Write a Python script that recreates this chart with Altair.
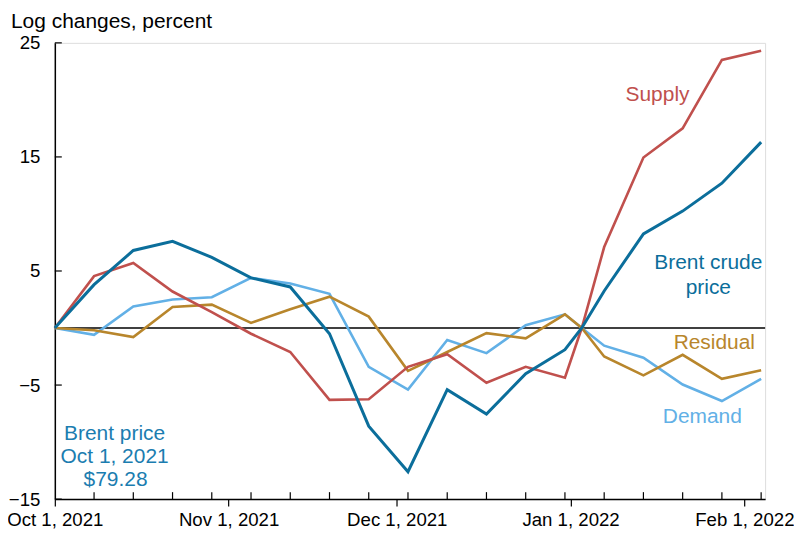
import altair as alt
import pandas as pd

# ---- data ----
dates = ["2021-10-01", "2021-10-08", "2021-10-15", "2021-10-22", "2021-10-29",
         "2021-11-05", "2021-11-12", "2021-11-19", "2021-11-26", "2021-12-03",
         "2021-12-10", "2021-12-17", "2021-12-24", "2021-12-31", "2022-01-03",
         "2022-01-07", "2022-01-14", "2022-01-21", "2022-01-28", "2022-02-04"]
brent = [0, 3.8, 6.8, 7.6, 6.2, 4.4, 3.6, -0.5, -8.6, -12.6,
         -5.4, -7.55, -4.0, -1.9, 0, 3.25, 8.25, 10.25, 12.7, 16.3]
supply = [0, 4.55, 5.7, 3.2, 1.4, -0.5, -2.1, -6.3, -6.25, -3.4,
          -2.3, -4.8, -3.4, -4.35, 0, 7.1, 14.95, 17.5, 23.5, 24.3]
demand = [0, -0.6, 1.9, 2.5, 2.7, 4.4, 3.9, 3.0, -3.4, -5.4,
          -1.05, -2.2, 0.25, 1.2, 0, -1.55, -2.6, -4.95, -6.4, -4.45]
residual = [0, -0.2, -0.8, 1.85, 2.05, 0.45, 1.65, 2.75, 1.0, -3.75,
            -2.1, -0.45, -0.9, 1.2, 0, -2.5, -4.15, -2.35, -4.45, -3.7]

y_ticks = [-15, -5, 5, 15, 25]
month_ticks = [(2021, 10), (2021, 11), (2021, 12), (2022, 1), (2022, 2)]
week_ticks = ["2021-10-08", "2021-10-15", "2021-10-22", "2021-10-29", "2021-11-05",
              "2021-11-12", "2021-11-19", "2021-11-26", "2021-12-03", "2021-12-10",
              "2021-12-17", "2021-12-24", "2021-12-31", "2022-01-07", "2022-01-14",
              "2022-01-21", "2022-01-28", "2022-02-04"]

FONT = "Liberation Sans"
C_BRENT = "#0b6e9b"
C_SUPPLY = "#c0504d"
C_DEMAND = "#62b0e6"
C_RESID = "#b8862c"
C_NOTE = "#1b7db0"
TICK_FS = 18.7
NOTE_FS = 21

W, H = 713, 458

series = pd.DataFrame({
    "date": dates * 4,
    "value": demand + residual + supply + brent,
    "series": ["Demand"] * len(dates) + ["Residual"] * len(dates)
              + ["Supply"] * len(dates) + ["Brent"] * len(dates),
})

x_scale = alt.Scale(
    type="utc",
    domain=[alt.DateTime(year=2021, month=10, date=1, utc=True),
            alt.DateTime(year=2022, month=2, date=4, hours=17, utc=True)],
)
y_scale = alt.Scale(domain=[-15, 25], nice=False, zero=False)

x_axis = alt.Axis(
    values=[alt.DateTime(year=y, month=m, date=1, utc=True) for y, m in month_ticks],
    labelExpr="utcFormat(datum.value, '%b %-d, %Y')",
    title=None, grid=False, tickSize=7, labelPadding=4,
    domainColor="black", tickColor="black", domainWidth=1.5, tickWidth=1.2,
    labelFont=FONT, labelFontSize=TICK_FS, labelColor="black",
    labelFlush=False, labelOverlap=False,
)
y_axis = alt.Axis(
    values=y_ticks, title=None, grid=False, tickSize=0, labelPadding=15,
    domainColor="black", domainWidth=1.5,
    labelFont=FONT, labelFontSize=TICK_FS, labelColor="black",
    labelOverlap=False, labelFlush=False,
)

base = alt.Chart(series)

def line(name, color, width):
    return base.transform_filter(alt.datum.series == name).mark_line(
        color=color, strokeWidth=width, strokeJoin="miter"
    ).encode(
        x=alt.X("date:T", scale=x_scale, axis=x_axis),
        y=alt.Y("value:Q", scale=y_scale, axis=y_axis),
    )

zero = alt.Chart(pd.DataFrame({"v": [0]})).mark_rule(color="black", strokeWidth=1.6).encode(
    y=alt.Y("v:Q", scale=y_scale)
)

ytick_rules = alt.Chart(pd.DataFrame({"v": y_ticks})).mark_rule(
    color="black", strokeWidth=1.2).encode(
    y=alt.Y("v:Q", scale=y_scale), x=alt.value(0), x2=alt.value(7)
)
xtick_rules = alt.Chart(pd.DataFrame({"d": week_ticks})).mark_rule(
    color="black", strokeWidth=1.2).encode(
    x=alt.X("d:T", scale=x_scale), y=alt.value(H - 7), y2=alt.value(H)
)

def label(text, x, y, color, align="center"):
    return alt.Chart(pd.DataFrame({"t": [text]})).mark_text(
        font=FONT, fontSize=NOTE_FS, color=color, align=align, baseline="middle"
    ).encode(text="t:N", x=alt.value(x), y=alt.value(y))

title = alt.Chart(pd.DataFrame({"t": ["Log changes, percent"]})).mark_text(
    font=FONT, fontSize=NOTE_FS, color="black", align="left", baseline="alphabetic"
).encode(text="t:N", x=alt.value(-44), y=alt.value(-15))

notes = [
    label("Supply", 605, 52, C_SUPPLY),
    label("Brent crude", 656, 221, C_BRENT),
    label("price", 656, 246, C_BRENT),
    label("Residual", 662, 301, C_RESID),
    label("Demand", 650, 376, C_DEMAND),
    label("Brent price", 60, 393, C_NOTE),
    label("Oct 1, 2021", 60, 416, C_NOTE),
    label("$79.28", 61, 439, C_NOTE),
]

chart = alt.layer(
    zero,
    line("Demand", C_DEMAND, 2.6),
    line("Residual", C_RESID, 2.6),
    line("Supply", C_SUPPLY, 2.6),
    line("Brent", C_BRENT, 3.0),
    ytick_rules, xtick_rules, title, *notes,
).properties(
    width=W, height=H,
    padding={"left": 47, "top": 34, "right": 29, "bottom": 29},
    autosize=alt.AutoSizeParams(type="none"),
).configure_view(
    stroke="#666666", strokeWidth=1.5
).configure(background="white")

chart.save("out.html", embed_options={"renderer": "svg", "actions": False})
